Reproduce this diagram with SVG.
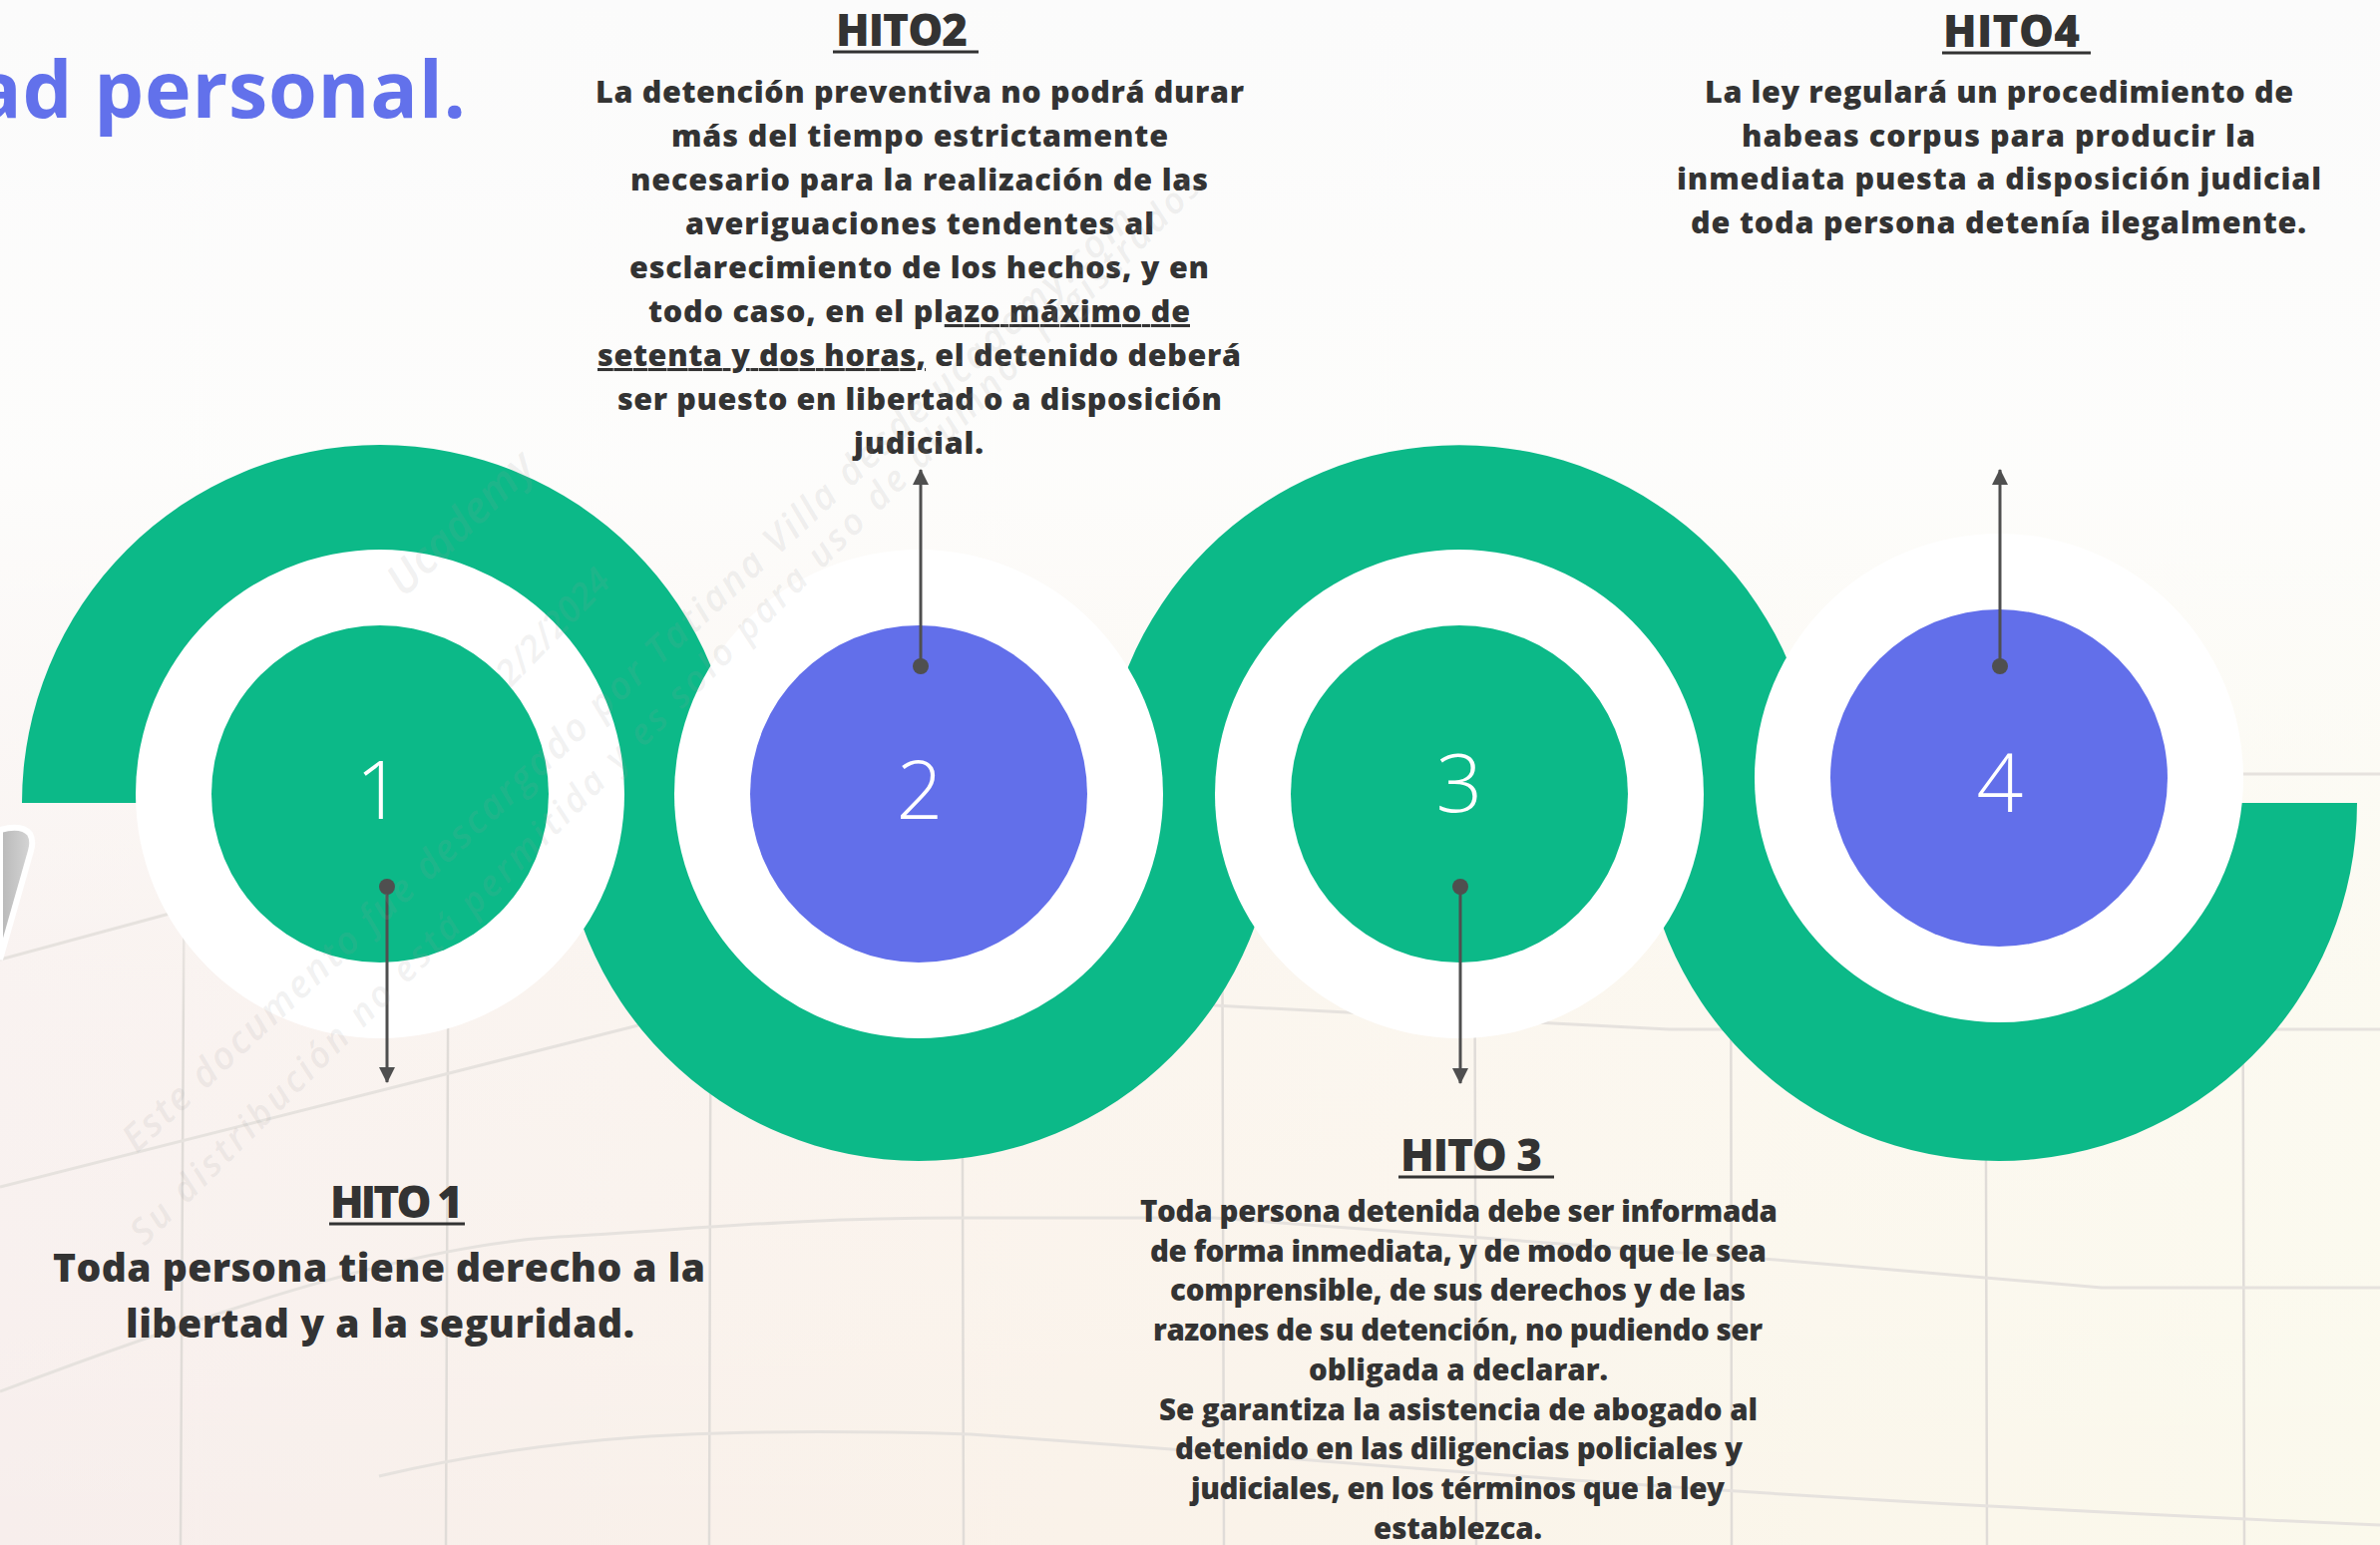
<svg xmlns="http://www.w3.org/2000/svg" width="2386" height="1549" viewBox="0 0 2386 1549">
<defs>
<style>
.t{font-family:'Open Sans','Liberation Sans',sans-serif;font-weight:800;fill:#333333}
.body{font-size:30.5px}
.body3{font-size:29.5px}
.big{font-size:39px}
.ttl{font-size:44px;font-weight:800}
.num{font-family:'Open Sans','Liberation Sans',sans-serif;font-weight:300;font-size:82px;fill:#ffffff;text-anchor:middle}
.ul{stroke:#333333;stroke-width:3.2}
.arc{fill:#0cb988}
.ring{fill:#ffffff}
.g{fill:#0cb988}
.p{fill:#626fea}
.conn{stroke:#4f4f4f;stroke-width:3;fill:none}
.dot{fill:#4f4f4f}
.bgl{fill:none;stroke:#e6e2de;stroke-width:3}
.vl{fill:none;stroke:url(#gridFade);stroke-width:2.5}
.wm{font-family:'Open Sans','Liberation Sans',sans-serif;font-style:italic;font-weight:600;fill:#9a9a9a;fill-opacity:0.15}
</style>
<linearGradient id="bgH" x1="0" y1="0" x2="1" y2="0">
<stop offset="0" stop-color="#f7eeec"/>
<stop offset="0.45" stop-color="#faf2e9"/>
<stop offset="1" stop-color="#fbf9ec"/>
</linearGradient>
<linearGradient id="bgV" x1="0" y1="0" x2="0" y2="1">
<stop offset="0" stop-color="#fbfbfb" stop-opacity="1"/>
<stop offset="0.3" stop-color="#fdfdfc" stop-opacity="0.96"/>
<stop offset="0.62" stop-color="#fdfcfa" stop-opacity="0.35"/>
<stop offset="1" stop-color="#ffffff" stop-opacity="0"/>
</linearGradient>
<linearGradient id="gridFade" gradientUnits="userSpaceOnUse" x1="0" y1="800" x2="0" y2="1020">
<stop offset="0" stop-color="#e0dcd8" stop-opacity="0"/>
<stop offset="1" stop-color="#e0dcd8" stop-opacity="1"/>
</linearGradient>
<linearGradient id="pencil" x1="0" y1="0" x2="1" y2="0">
<stop offset="0" stop-color="#b8b8b8"/>
<stop offset="1" stop-color="#d6d6d6"/>
</linearGradient>
<marker id="arrow" markerUnits="userSpaceOnUse" markerWidth="16" markerHeight="18" viewBox="0 0 16 18" refX="15" refY="9" orient="auto">
<path d="M0,1 L16,9 L0,17 Z" fill="#4f4f4f"/>
</marker>
</defs>

<g id="background">
<rect x="0" y="0" width="2386" height="1549" fill="url(#bgH)"/>
<rect x="0" y="0" width="2386" height="1549" fill="url(#bgV)"/>
<path class="vl" d="M185,800 L181,1549 M450,800 L447,1549 M713,800 L711,1549 M964,800 L966,1549 M1225,800 L1227,1549 M1478,800 L1480,1549 M1735,800 L1736,1549 M1990,800 L1992,1549 M2248,800 L2250,1549"/>
<path class="bgl" d="M0,962 L170,916"/>
<path class="bgl" d="M0,1190 L640,1028"/>
<path class="bgl" d="M0,1395 C200,1320 400,1250 560,1240 C700,1232 800,1221 958,1221 L1217,1221 L1780,1263 L2107,1291 L2386,1291"/>
<path class="bgl" d="M380,1480 C550,1440 700,1430 973,1438 C1300,1460 1600,1495 2386,1529"/>
<path class="bgl" d="M1217,1008 L1673,1032 L2386,1032"/>
<path class="bgl" d="M2248,776 L2386,776"/>
<path d="M0,832 Q22,826 30,836 Q34,843 31,853 L0,962 Z" fill="url(#pencil)" stroke="#ffffff" stroke-width="6"/>
</g>

<g id="title">
<text class="t" x="-26" y="118" font-size="79" textLength="493" style="fill:#6271eb;font-weight:700">ad personal.</text>
</g>

<g id="arcs">
<path class="arc" d="M22,805 A359,359 0 0 1 740,805 L581,805 A200,200 0 0 0 181,805 Z"/>
<path class="arc" d="M562,805 A359,359 0 0 0 1280,805 L1121,805 A200,200 0 0 1 721,805 Z"/>
<path class="arc" d="M1104,805 A359,359 0 0 1 1822,805 L1663,805 A200,200 0 0 0 1263,805 Z"/>
<path class="arc" d="M1645,805 A359,359 0 0 0 2363,805 L2204,805 A200,200 0 0 1 1804,805 Z"/>
</g>

<g id="node1">
<circle class="ring" cx="381" cy="796" r="245"/>
<circle class="g" cx="381" cy="796" r="169"/>
<text class="num" x="380" y="821">1</text>
</g>
<g id="node2">
<circle class="ring" cx="921" cy="796" r="245"/>
<circle class="p" cx="921" cy="796" r="169"/>
<text class="num" x="922" y="821">2</text>
</g>
<g id="node3">
<circle class="ring" cx="1463" cy="796" r="245"/>
<circle class="g" cx="1463" cy="796" r="169"/>
<text class="num" x="1463" y="814">3</text>
</g>
<g id="node4">
<circle class="ring" cx="2004" cy="780" r="245"/>
<circle class="p" cx="2004" cy="780" r="169"/>
<text class="num" x="2005" y="814">4</text>
</g>

<g id="connectors">
<line class="conn" x1="388" y1="889" x2="388" y2="1085" marker-end="url(#arrow)"/>
<circle class="dot" cx="388" cy="889" r="8"/>
<line class="conn" x1="923" y1="668" x2="923" y2="471" marker-end="url(#arrow)"/>
<circle class="dot" cx="923" cy="668" r="8"/>
<line class="conn" x1="1464" y1="889" x2="1464" y2="1086" marker-end="url(#arrow)"/>
<circle class="dot" cx="1464" cy="889" r="8"/>
<line class="conn" x1="2005" y1="668" x2="2005" y2="471" marker-end="url(#arrow)"/>
<circle class="dot" cx="2005" cy="668" r="8"/>
</g>

<g id="hito1">
<text class="t ttl" x="331" y="1221" textLength="133">HITO 1</text>
<line class="ul" x1="330" y1="1227" x2="466" y2="1227"/>
<text class="t big" x="53" y="1285" textLength="654">Toda persona tiene derecho a la</text>
<text class="t big" x="126" y="1341" textLength="510">libertad y a la seguridad.</text>
</g>

<g id="hito2">
<text class="t ttl" x="838" y="46" textLength="132">HITO2</text>
<line class="ul" x1="835" y1="52" x2="981" y2="52"/>
<text class="t body" x="597" y="103" textLength="650">La detención preventiva no podrá durar</text>
<text class="t body" x="673" y="147" textLength="498">más del tiempo estrictamente</text>
<text class="t body" x="632" y="191" textLength="579">necesario para la realización de las</text>
<text class="t body" x="687" y="235" textLength="470">averiguaciones tendentes al</text>
<text class="t body" x="631" y="279" textLength="581">esclarecimiento de los hechos, y en</text>
<text class="t body" x="650" y="323" textLength="543">todo caso, en el pl<tspan text-decoration="underline">azo máximo de</tspan></text>
<text class="t body" x="599" y="367" textLength="645"><tspan text-decoration="underline">setenta y dos horas,</tspan> el detenido deberá</text>
<text class="t body" x="619" y="411" textLength="606">ser puesto en libertad o a disposición</text>
<text class="t body" x="856" y="455" textLength="130">judicial.</text>
</g>

<g id="hito3">
<text class="t ttl" x="1404" y="1174" textLength="142">HITO 3</text>
<line class="ul" x1="1402" y1="1180" x2="1558" y2="1180"/>
<text class="t body3" x="1143" y="1225" textLength="639">Toda persona detenida debe ser informada</text>
<text class="t body3" x="1153" y="1265" textLength="618">de forma inmediata, y de modo que le sea</text>
<text class="t body3" x="1173" y="1304" textLength="577">comprensible, de sus derechos y de las</text>
<text class="t body3" x="1156" y="1344" textLength="611">razones de su detención, no pudiendo ser</text>
<text class="t body3" x="1312" y="1384" textLength="300">obligada a declarar.</text>
<text class="t body3" x="1162" y="1424" textLength="600">Se garantiza la asistencia de abogado al</text>
<text class="t body3" x="1178" y="1463" textLength="569">detenido en las diligencias policiales y</text>
<text class="t body3" x="1194" y="1503" textLength="535">judiciales, en los términos que la ley</text>
<text class="t body3" x="1377" y="1543" textLength="169">establezca.</text>
</g>

<g id="hito4">
<text class="t ttl" x="1948" y="47" textLength="137">HITO4</text>
<line class="ul" x1="1947" y1="53" x2="2096" y2="53"/>
<text class="t body" x="1709" y="103" textLength="590">La ley regulará un procedimiento de</text>
<text class="t body" x="1746" y="147" textLength="515">habeas corpus para producir la</text>
<text class="t body" x="1681" y="190" textLength="646">inmediata puesta a disposición judicial</text>
<text class="t body" x="1695" y="234" textLength="617">de toda persona detenía ilegalmente.</text>
</g>

<g id="watermark">
<text class="wm" font-size="44" transform="translate(405,600) rotate(-44)">Ucademy</text>
<text class="wm" font-size="36" transform="translate(512,690) rotate(-46)">2/2/2024</text>
<text class="wm" font-size="38" transform="translate(137,1157) rotate(-43)" textLength="1370">Este documento fue descargado por Tatiana Villa desde ucademy.com</text>
<text class="wm" font-size="36" transform="translate(145,1250) rotate(-45)" textLength="1500">Su distribución no está permitida y es solo para uso de alumnos registrados</text>
</g>
</svg>
